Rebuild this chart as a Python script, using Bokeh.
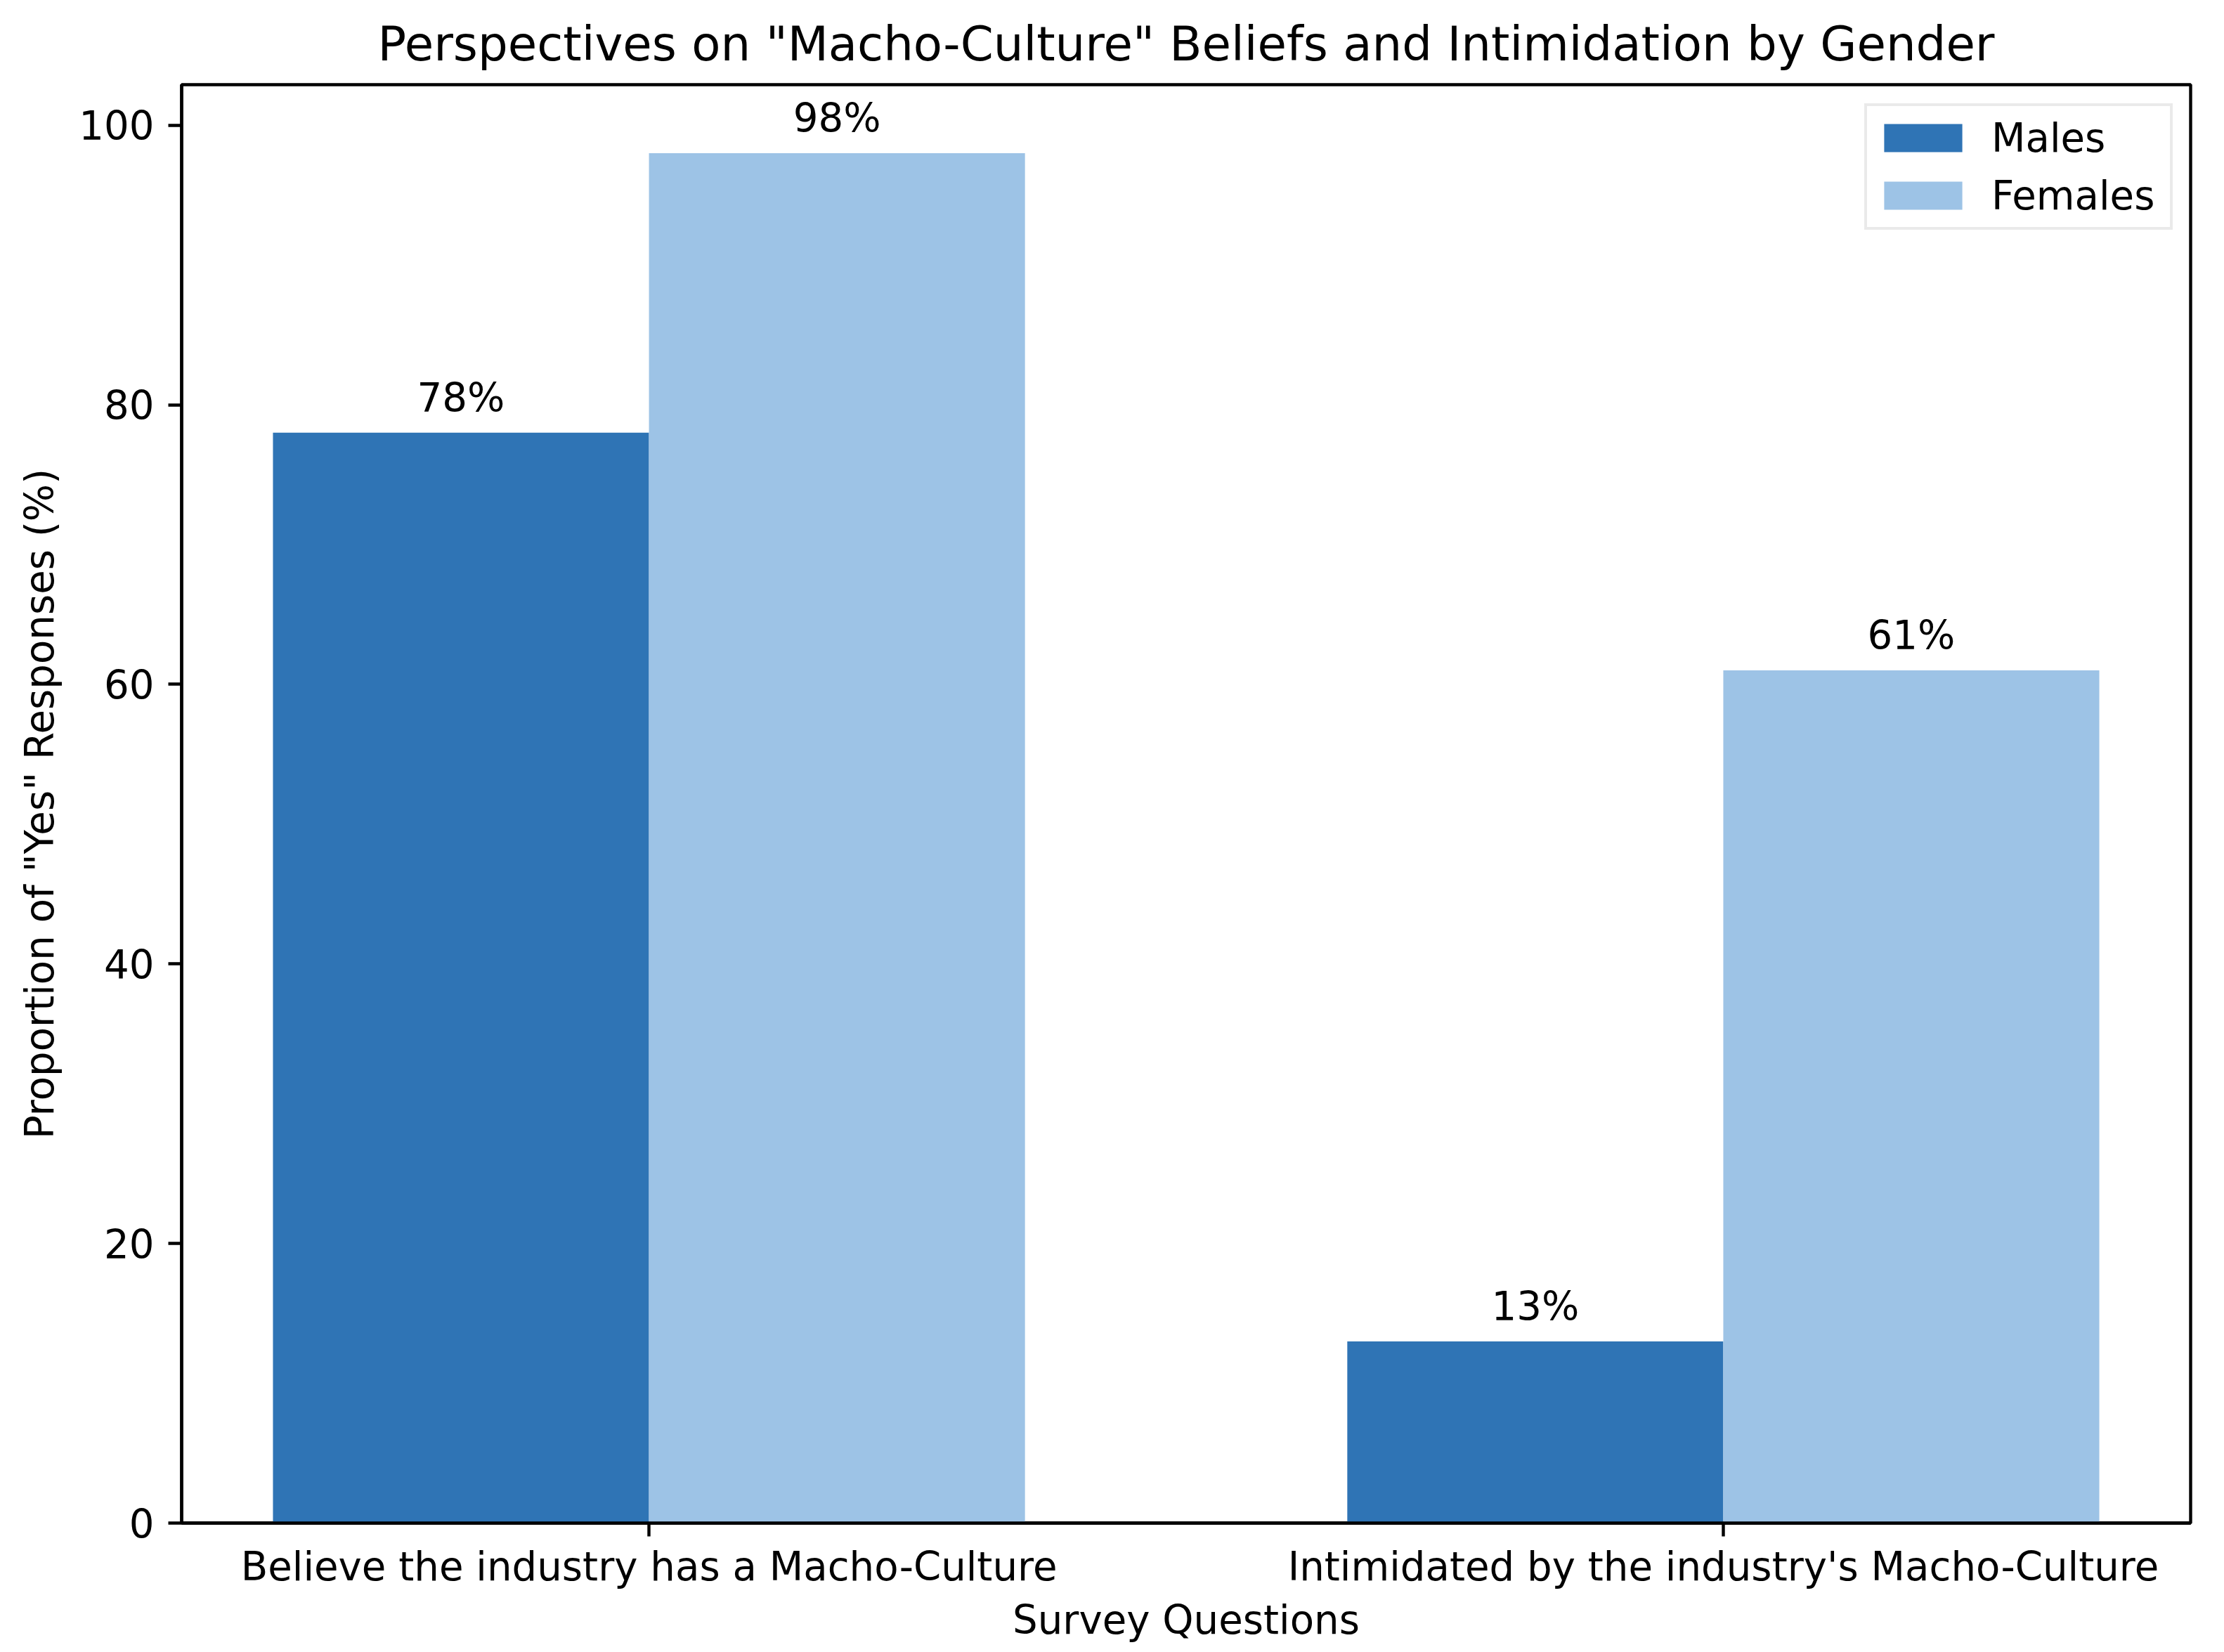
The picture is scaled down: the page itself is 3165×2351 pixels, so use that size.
from bokeh.plotting import figure
from bokeh.models import ColumnDataSource, Range1d, FixedTicker, Legend, LegendItem
from bokeh.transform import dodge
from bokeh.core.properties import value
from bokeh.embed import file_html
from bokeh.resources import INLINE

# ---- data ----
categories = ["Believe the industry has a Macho-Culture", "Intimidated by the industry's Macho-Culture"]
males = [78, 13]
females = [98, 61]
series_names = ["Males", "Females"]
y_ticks = [0, 20, 40, 60, 80, 100]

MALE_COLOR = "#2f74b5"
FEMALE_COLOR = "#9dc3e6"
FONT = "DejaVu Sans"
FS = "56.2px"
BAR_W = 0.35

xs = list(range(len(categories)))
src = ColumnDataSource(dict(
    x=xs,
    males=males,
    females=females,
    mlab=[f"{v}%" for v in males],
    flab=[f"{v}%" for v in females],
))

FRAME_W, FRAME_H = 2859, 2047
p = figure(frame_width=FRAME_W, frame_height=FRAME_H, output_backend="svg", toolbar_location=None,
           x_range=Range1d(-0.435, 1.435), y_range=Range1d(0, 102.9),
           min_border_left=258, min_border_right=32, min_border_top=120, min_border_bottom=168,
           title='Perspectives on "Macho-Culture" Beliefs and Intimidation by Gender')

p.title.text_font = FONT
p.title.text_font_size = "67.4px"
p.title.text_font_style = "normal"
p.title.align = "center"
p.title.text_color = "black"
p.title.standoff = 38

p.xgrid.visible = False
p.ygrid.visible = False
p.outline_line_color = "black"
p.outline_line_width = 4.4
p.outline_line_alpha = 1.0

rm = p.vbar(x=dodge("x", -BAR_W / 2, range=p.x_range), top="males", width=BAR_W, bottom=0,
            source=src, fill_color=MALE_COLOR, line_color=None)
rf = p.vbar(x=dodge("x", BAR_W / 2, range=p.x_range), top="females", width=BAR_W, bottom=0,
            source=src, fill_color=FEMALE_COLOR, line_color=None)

for col, lab, off in (("males", "mlab", -BAR_W / 2), ("females", "flab", BAR_W / 2)):
    p.text(x=dodge("x", off, range=p.x_range), y=col, text=lab, source=src,
           text_align="center", text_baseline="bottom", y_offset=-17,
           text_font_size=FS, text_color="black", text_font=value(FONT))

# axes
for ax in (p.xaxis[0], p.yaxis[0]):
    ax.axis_line_width = 4.4
    ax.axis_line_color = "black"
    ax.major_tick_line_width = 4.4
    ax.major_tick_line_color = "black"
    ax.major_tick_out = 19
    ax.major_tick_in = 0
    ax.minor_tick_line_color = None
    ax.major_label_text_font = FONT
    ax.major_label_text_font_size = FS
    ax.major_label_text_color = "black"
    ax.axis_label_text_font = FONT
    ax.axis_label_text_font_size = FS
    ax.axis_label_text_font_style = "normal"
    ax.axis_label_text_color = "black"

p.xaxis.ticker = FixedTicker(ticks=xs)
p.xaxis.major_label_overrides = {i: c for i, c in zip(xs, categories)}
p.xaxis.major_label_standoff = 10
p.xaxis.axis_label = "Survey Questions"
p.xaxis.axis_label_standoff = 8

p.yaxis.ticker = FixedTicker(ticks=y_ticks)
p.yaxis.major_label_standoff = 20
p.yaxis.axis_label = 'Proportion of "Yes" Responses (%)'
p.yaxis.axis_label_standoff = 20

legend = Legend(items=[LegendItem(label=series_names[0], renderers=[rm]),
                       LegendItem(label=series_names[1], renderers=[rf])],
                location=(2395, 1840))
legend.label_text_font = FONT
legend.label_text_font_size = FS
legend.label_text_color = "black"
legend.glyph_width = 139
legend.glyph_height = 50
legend.label_standoff = 28
legend.label_width = 244
legend.label_height = 70
legend.spacing = 12
legend.padding = 10
legend.margin = 0
legend.border_line_color = "#d6d6d6"
legend.border_line_width = 4
legend.background_fill_alpha = 0.8
p.add_layout(legend)

open("out.html", "w").write(file_html(p, INLINE))
